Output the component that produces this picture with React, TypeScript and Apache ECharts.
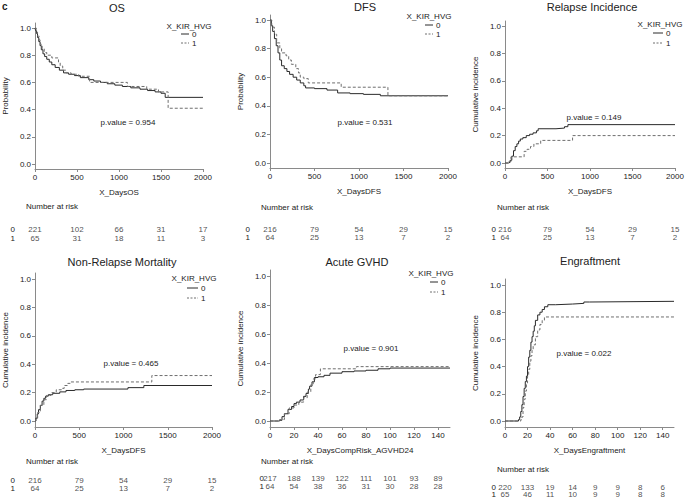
import React, { useEffect, useRef } from "react";
import * as echarts from "echarts";

// ---------------- data ----------------
const GROUPS = ["0", "1"];
const LEGEND_TITLE = "X_KIR_HVG";
const Y_TICKS = [0, 0.2, 0.4, 0.6, 0.8, 1.0];
const LONG_TICKS = [0, 500, 1000, 1500, 2000];
const SHORT_TICKS = [0, 20, 40, 60, 80, 100, 120, 140];

const OS_0 = [[0,1],[8,0.98],[18,0.96],[30,0.93],[45,0.9],[60,0.87],[75,0.84],[95,0.81],[115,0.79],[140,0.77],[170,0.75],[200,0.73],[240,0.71],[290,0.69],[340,0.67],[400,0.66],[470,0.65],[540,0.635],[640,0.62],[700,0.61],[780,0.6],[860,0.59],[950,0.58],[1040,0.57],[1140,0.56],[1250,0.55],[1340,0.54],[1430,0.53],[1500,0.52],[1550,0.49],[2000,0.49]];
const OS_1 = [[0,1],[15,0.97],[30,0.94],[50,0.91],[65,0.88],[85,0.85],[110,0.82],[140,0.8],[200,0.78],[280,0.75],[300,0.72],[330,0.69],[370,0.67],[430,0.66],[520,0.645],[650,0.6],[1100,0.57],[1330,0.55],[1470,0.53],[1585,0.41],[2000,0.41]];
const OS_RISK_0 = [221, 102, 66, 31, 17];
const OS_RISK_1 = [65, 31, 18, 11, 3];

const DFS_0 = [[0,1],[15,0.96],[30,0.92],[50,0.87],[70,0.82],[90,0.77],[110,0.72],[130,0.68],[160,0.66],[190,0.64],[220,0.62],[260,0.6],[300,0.58],[340,0.56],[380,0.54],[400,0.525],[500,0.52],[640,0.51],[760,0.49],[900,0.485],[1050,0.48],[1240,0.47],[2000,0.47]];
const DFS_1 = [[0,1],[20,0.95],[50,0.9],[75,0.84],[110,0.8],[130,0.77],[180,0.75],[210,0.72],[240,0.69],[290,0.66],[320,0.63],[340,0.6],[380,0.59],[430,0.56],[800,0.53],[1325,0.47],[2000,0.47]];
const DFS_RISK_0 = [216, 79, 54, 29, 15];
const DFS_RISK_1 = [64, 25, 13, 7, 2];

const REL_0 = [[0,0],[40,0.005],[60,0.02],[80,0.05],[100,0.09],[120,0.12],[140,0.14],[160,0.16],[180,0.175],[210,0.185],[250,0.2],[290,0.21],[330,0.22],[370,0.235],[390,0.25],[600,0.255],[700,0.265],[740,0.28],[2000,0.28]];
const REL_1 = [[0,0],[40,0.01],[70,0.045],[225,0.085],[260,0.1],[300,0.12],[340,0.14],[420,0.165],[795,0.2],[2000,0.2]];

const NRM_0 = [[0,0],[10,0.02],[25,0.05],[40,0.08],[60,0.11],[80,0.14],[100,0.16],[120,0.175],[150,0.185],[200,0.195],[280,0.205],[350,0.215],[450,0.22],[550,0.225],[1050,0.235],[1230,0.25],[2000,0.25]];
const NRM_1 = [[0,0],[10,0.02],[30,0.06],[60,0.11],[100,0.15],[130,0.18],[180,0.2],[240,0.22],[300,0.23],[330,0.25],[370,0.265],[400,0.275],[1320,0.32],[2000,0.32]];

const AGVHD_0 = [[0,0],[8,0.005],[10,0.03],[12,0.05],[15,0.08],[18,0.1],[20,0.12],[22,0.13],[25,0.145],[28,0.17],[30,0.19],[32,0.22],[33,0.24],[35,0.27],[37,0.3],[40,0.305],[45,0.315],[50,0.33],[60,0.34],[70,0.345],[80,0.35],[90,0.36],[100,0.365],[150,0.365]];
const AGVHD_1 = [[0,0],[8,0.01],[12,0.05],[16,0.09],[20,0.11],[24,0.13],[28,0.16],[31,0.2],[34,0.25],[36,0.29],[38,0.32],[42,0.36],[72,0.375],[150,0.375]];
const AGVHD_RISK_0 = [217, 188, 139, 122, 111, 101, 93, 89];
const AGVHD_RISK_1 = [64, 54, 38, 36, 31, 30, 28, 28];

const ENG_0 = [[0,0],[12,0.01],[13,0.03],[14,0.07],[15,0.12],[16,0.18],[17,0.24],[18,0.29],[19,0.33],[20,0.4],[21,0.47],[22,0.52],[23,0.58],[24,0.62],[25,0.66],[26,0.7],[27,0.74],[29,0.78],[31,0.8],[33,0.82],[35,0.84],[38,0.855],[45,0.86],[60,0.865],[70,0.875],[75,0.88],[150,0.88]];
const ENG_1 = [[0,0],[14,0.01],[15,0.03],[16,0.1],[17,0.16],[18,0.22],[19,0.28],[20,0.33],[21,0.38],[22,0.44],[23,0.48],[24,0.52],[25,0.56],[27,0.62],[29,0.67],[31,0.71],[33,0.74],[35,0.765],[150,0.765]];
const ENG_RISK_0 = [220, 133, 19, 14, 9, 9, 8, 6];
const ENG_RISK_1 = [65, 46, 11, 10, 9, 9, 8, 8];

// ---------------- layout ----------------
const PANELS: any[] = [
  { title: "OS", xName: "X_DaysOS", yName: "Probability", pval: "p.value = 0.954",
    x0: 35, x1: 203, y1: 28, y0: 164, axisY: 169, xMax: 2000, ticks: LONG_TICKS,
    s0: OS_0, s1: OS_1, r0: OS_RISK_0, r1: OS_RISK_1,
    tX: 117, tY: 8, pX: 128, pY: 122, narX: 26, narY: 206, row0: 229, row1: 238, rowMargin: 20, riskDx: 1,
    leg: { tx: 189, ty: 26, lx1: 181, lx2: 189, ly0: 34, ly1: 43 } },
  { title: "DFS", xName: "X_DaysDFS", yName: "Probability", pval: "p.value = 0.531",
    x0: 270, x1: 448, y1: 20, y0: 163, axisY: 168, xMax: 2000, ticks: LONG_TICKS,
    s0: DFS_0, s1: DFS_1, r0: DFS_RISK_0, r1: DFS_RISK_1,
    tX: 365, tY: 7, pX: 365, pY: 122, narX: 261, narY: 207, row0: 229, row1: 237, rowMargin: 20, riskDx: 1,
    leg: { tx: 429, ty: 16, lx1: 425, lx2: 433, ly0: 25, ly1: 34 } },
  { title: "Relapse Incidence", xName: "X_DaysDFS", yName: "Cumulative incidence", pval: "p.value = 0.149",
    x0: 505, x1: 675, y1: 26, y0: 163, axisY: 168, xMax: 2000, ticks: LONG_TICKS,
    s0: REL_0, s1: REL_1, r0: DFS_RISK_0, r1: DFS_RISK_1,
    tX: 592, tY: 7, pX: 594, pY: 117, narX: 497, narY: 207, row0: 229, row1: 237, rowMargin: 9, riskDx: 4,
    leg: { tx: 660, ty: 24, lx1: 653, lx2: 663, ly0: 33, ly1: 43 } },
  { title: "Non-Relapse Mortality", xName: "X_DaysDFS", yName: "Cumulative incidence", pval: "p.value = 0.465",
    x0: 35, x1: 212, y1: 279, y0: 421, axisY: 427, xMax: 2000, ticks: LONG_TICKS,
    s0: NRM_0, s1: NRM_1, r0: DFS_RISK_0, r1: DFS_RISK_1,
    tX: 122, tY: 262, pX: 131, pY: 363, narX: 26, narY: 461, row0: 480, row1: 488, rowMargin: 20, riskDx: 1,
    leg: { tx: 194, ty: 278, lx1: 187, lx2: 198, ly0: 288, ly1: 298 } },
  { title: "Acute GVHD", xName: "X_DaysCompRisk_AGVHD24", yName: "Cumulative incidence", pval: "p.value = 0.901",
    x0: 270, x1: 450, y1: 276, y0: 421, axisY: 427, xMax: 150, ticks: SHORT_TICKS,
    s0: AGVHD_0, s1: AGVHD_1, r0: AGVHD_RISK_0, r1: AGVHD_RISK_1,
    tX: 357, tY: 262, pX: 371, pY: 348, narX: 261, narY: 461, row0: 478, row1: 486, rowMargin: 6, riskDx: 6,
    leg: { tx: 431, ty: 273, lx1: 430, lx2: 438, ly0: 282, ly1: 292 } },
  { title: "Engraftment", xName: "X_DaysEngraftment", yName: "Cumulative incidence", pval: "p.value = 0.022",
    x0: 505, x1: 674, y1: 285, y0: 421, axisY: 427, xMax: 150, ticks: SHORT_TICKS,
    s0: ENG_0, s1: ENG_1, r0: ENG_RISK_0, r1: ENG_RISK_1,
    tX: 590, tY: 261, pX: 584, pY: 353, narX: 497, narY: 469, row0: 487, row1: 494.5, rowMargin: 9, riskDx: 5,
    leg: null },
];

const FONT = "'Liberation Sans', Arial, Helvetica, sans-serif";
const TEXT = "#222";
const AXIS = "#8a8a8a";
const C0 = "#2a2a2a";
const C1 = "#6e6e6e";

function txt(x: number, y: number, text: string, size: number, align = "center", weight = "normal") {
  return {
    type: "text", x, y, silent: true,
    style: { text, fontSize: size, fontFamily: FONT, fontWeight: weight, fill: TEXT,
      align, verticalAlign: "middle", textAlign: align, textVerticalAlign: "middle" },
  };
}

function buildOption() {
  const grid: any[] = [], xAxis: any[] = [], yAxis: any[] = [], series: any[] = [], graphic: any[] = [];
  const label = { fontSize: 8, color: TEXT, fontFamily: FONT };
  PANELS.forEach((p, i) => {
    const off = p.axisY - p.y0;
    const pad = off / (p.y0 - p.y1);
    grid.push({ left: p.x0, top: p.y1 - off, width: p.x1 - p.x0, height: p.axisY - p.y1 + off, outerBoundsMode: "none", containLabel: false });
    xAxis.push({
      gridIndex: 2 * i, type: "value", min: 0, max: p.xMax,
      name: p.xName, nameLocation: "middle", nameGap: 19, nameTextStyle: label,
      axisLine: { show: true, onZero: false, lineStyle: { color: AXIS, width: 1 } },
      axisTick: { show: true, length: 3, customValues: p.ticks, lineStyle: { color: AXIS } },
      axisLabel: { ...label, margin: 4, customValues: p.ticks, formatter: (v: number) => String(v) },
      splitLine: { show: false },
    });
    yAxis.push({
      gridIndex: 2 * i, type: "value", min: -pad, max: 1 + pad,
      name: p.yName, nameLocation: "middle", nameGap: 26, nameTextStyle: label,
      axisLine: { show: true, onZero: false, lineStyle: { color: AXIS, width: 1 } },
      axisTick: { show: true, length: 3, customValues: Y_TICKS, lineStyle: { color: AXIS } },
      axisLabel: { ...label, margin: 4, customValues: Y_TICKS, formatter: (v: number) => v.toFixed(1) },
      splitLine: { show: false },
    });
    // risk table grid
    const h = p.row1 - p.row0;
    grid.push({ left: p.x0, width: p.x1 - p.x0, top: p.row0 - h / 2, height: 2 * h, outerBoundsMode: "none", containLabel: false });
    xAxis.push({ gridIndex: 2 * i + 1, type: "value", min: 0, max: p.xMax, show: false });
    yAxis.push({
      gridIndex: 2 * i + 1, type: "category", data: GROUPS, inverse: true,
      axisLine: { show: false }, axisTick: { show: false }, splitLine: { show: false },
      axisLabel: { ...label, margin: p.rowMargin, interval: 0, hideOverlap: false },
    });

    [p.s0, p.s1].forEach((d: number[][], k: number) => {
      series.push({
        type: "line", name: GROUPS[k], xAxisIndex: 2 * i, yAxisIndex: 2 * i,
        data: d, step: "end", symbol: "none", silent: true,
        lineStyle: { color: k === 0 ? C0 : C1, width: 1, type: k === 0 ? "solid" : [3, 2] },
      });
    });
    const riskData: any[] = [];
    p.ticks.forEach((t: number, j: number) => {
      riskData.push([t, GROUPS[0], p.r0[j]]);
      riskData.push([t, GROUPS[1], p.r1[j]]);
    });
    series.push({
      type: "scatter", xAxisIndex: 2 * i + 1, yAxisIndex: 2 * i + 1, data: riskData,
      symbolSize: 1, itemStyle: { color: "rgba(0,0,0,0)" }, silent: true,
      label: { show: true, position: "inside", offset: [p.riskDx, 0], formatter: (o: any) => String(o.value[2]), ...label },
      labelLayout: { hideOverlap: false },
    });

    graphic.push(txt(p.tX, p.tY, p.title, 11));
    graphic.push(txt(p.pX, p.pY, p.pval, 8));
    graphic.push(txt(p.narX, p.narY, "Number at risk", 8, "left"));
    if (p.leg) {
      const L = p.leg;
      graphic.push(txt(L.tx, L.ty, LEGEND_TITLE, 8));
      graphic.push({ type: "line", silent: true, shape: { x1: L.lx1, y1: L.ly0, x2: L.lx2, y2: L.ly0 }, style: { stroke: C0, lineWidth: 1 } });
      graphic.push({ type: "line", silent: true, shape: { x1: L.lx1, y1: L.ly1, x2: L.lx2, y2: L.ly1 }, style: { stroke: C1, lineWidth: 1, lineDash: [2, 1.5] } });
      graphic.push(txt(L.lx2 + 3, L.ly0, GROUPS[0], 8, "left"));
      graphic.push(txt(L.lx2 + 3, L.ly1, GROUPS[1], 8, "left"));
    }
  });
  graphic.push(txt(2, 6, "c", 10, "left", "bold"));

  return { animation: false, backgroundColor: "#fff", grid, xAxis, yAxis, series, graphic };
}

export default function App() {
  const ref = useRef<HTMLDivElement>(null);
  useEffect(() => {
    if (!ref.current) return;
    const chart = echarts.init(ref.current, undefined, { renderer: "svg" });
    chart.setOption(buildOption() as any);
    return () => chart.dispose();
  }, []);
  return <div ref={ref} style={{ position: "fixed", left: 0, top: 0, width: 685, height: 498, background: "#fff" }} />;
}
